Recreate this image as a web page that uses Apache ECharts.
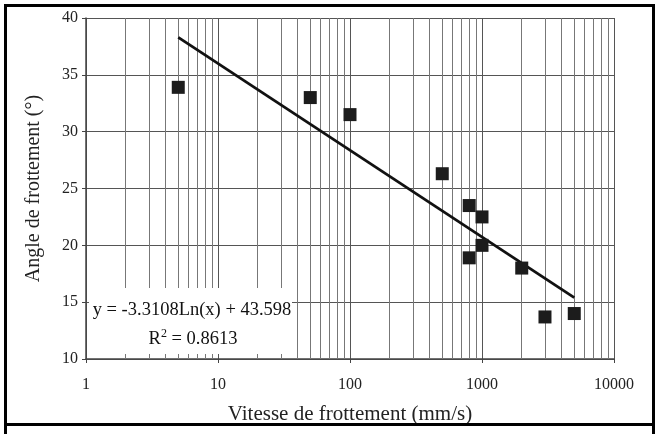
<!DOCTYPE html>
<html lang="fr">
<head>
<meta charset="utf-8">
<script src="https://cdn.jsdelivr.net/npm/echarts@6/dist/echarts.min.js"></script>
<style>
  html, body { margin: 0; padding: 0; background: #fff; }
  #chart { width: 656px; height: 434px; }
</style>
</head>
<body>
<div id="chart"></div>
<script>
// mesures (vitesse mm/s, angle en degrés)
var vitesse = [5, 50, 100, 500, 800, 1000, 1000, 800, 2000, 3000, 5000];
var angle = [33.9, 33.0, 31.5, 26.3, 23.5, 22.5, 20.0, 18.9, 18.0, 13.7, 14.0];
// extrémités de la courbe de tendance
var tendanceX = [5, 5000];
var tendanceY = [38.3, 15.4];
var xTicks = [1, 10, 100, 1000, 10000];
var yTicks = [10, 15, 20, 25, 30, 35, 40];
var equation = 'y = -3.3108Ln(x) + 43.598';
var r2 = '{t|R}{s|2}{t| = 0.8613}';

var serif = '"Liberation Serif", "DejaVu Serif", serif';

// lignes de grille secondaires 2..9 de chaque décade
var mineures = [];
for (var d = 1; d < 10000; d *= 10) {
    for (var m = 2; m <= 9; m++) mineures.push({ xAxis: d * m });
}

var points = vitesse.map(function (v, i) { return [v, angle[i]]; });
var tendance = tendanceX.map(function (v, i) { return [v, tendanceY[i]]; });

var myChart = echarts.init(document.getElementById('chart'));
var option = {
    animation: false,
    grid: { left: 86, right: 42, top: 18, bottom: 75, outerBoundsMode: 'none' },
    xAxis: {
        type: 'log',
        logBase: 10,
        min: xTicks[0],
        max: xTicks[xTicks.length - 1],
        name: 'Vitesse de frottement (mm/s)',
        nameLocation: 'middle',
        nameGap: 45,
        nameTextStyle: { fontFamily: serif, fontSize: 21, color: '#222' },
        axisLine: { lineStyle: { color: '#444', width: 1.5 } },
        axisTick: { inside: false, length: 4, lineStyle: { color: '#444' } },
        axisLabel: {
            fontFamily: serif, fontSize: 16, color: '#222', margin: 18,
            formatter: function (v) { return String(Math.round(v)); }
        },
        splitLine: { show: true, lineStyle: { color: '#555', width: 1 } }
    },
    yAxis: {
        type: 'value',
        min: yTicks[0],
        max: yTicks[yTicks.length - 1],
        interval: 5,
        name: 'Angle de frottement (°)',
        nameLocation: 'middle',
        nameGap: 42,
        nameTextStyle: { fontFamily: serif, fontSize: 20, color: '#222' },
        axisLine: { show: true, lineStyle: { color: '#444', width: 1.5 } },
        axisTick: { show: true, length: 4, lineStyle: { color: '#444' } },
        axisLabel: { fontFamily: serif, fontSize: 16, color: '#222', margin: 8 },
        splitLine: { show: true, lineStyle: { color: '#555', width: 1 } }
    },
    series: [
        {
            // grille secondaire du log
            type: 'line',
            data: [],
            z: 1,
            silent: true,
            markLine: {
                silent: true,
                symbol: 'none',
                label: { show: false },
                lineStyle: { color: '#777', width: 1, type: 'solid' },
                data: mineures
            }
        },
        {
            type: 'line',
            data: tendance,
            symbol: 'none',
            lineStyle: { color: '#111', width: 2.8 },
            z: 5
        },
        {
            type: 'scatter',
            data: points,
            symbol: 'rect',
            symbolSize: 13,
            itemStyle: { color: '#1c1c1c', opacity: 1 },
            z: 10
        }
    ],
    graphic: [
        {
            type: 'rect',
            z: 100,
            shape: { x: 89, y: 288, width: 203, height: 66 },
            style: { fill: '#fff' }
        },
        {
            type: 'text',
            z: 101,
            x: 192, y: 310,
            style: { text: equation, fontFamily: serif, fontSize: 18.5, fill: '#111', align: 'center', verticalAlign: 'middle' }
        },
        {
            type: 'text',
            z: 101,
            x: 193, y: 339,
            style: {
                text: r2, align: 'center', verticalAlign: 'middle',
                rich: {
                    t: { fontFamily: serif, fontSize: 18.5, fill: '#111' },
                    s: { fontFamily: serif, fontSize: 12, fill: '#111', verticalAlign: 'top', padding: [0, 0, 10, 0] }
                }
            }
        },
        {
            type: 'rect',
            z: 102,
            shape: { x: 5.5, y: 5.5, width: 648, height: 419 },
            style: { fill: 'none', stroke: '#000', lineWidth: 3 }
        },
        {
            type: 'polyline',
            z: 102,
            shape: { points: [[5.5, 424], [5.5, 434]] },
            style: { stroke: '#000', lineWidth: 3 }
        },
        {
            type: 'polyline',
            z: 102,
            shape: { points: [[653.5, 424], [653.5, 434]] },
            style: { stroke: '#000', lineWidth: 3 }
        }
    ]
};
myChart.setOption(option);
</script>
</body>
</html>
